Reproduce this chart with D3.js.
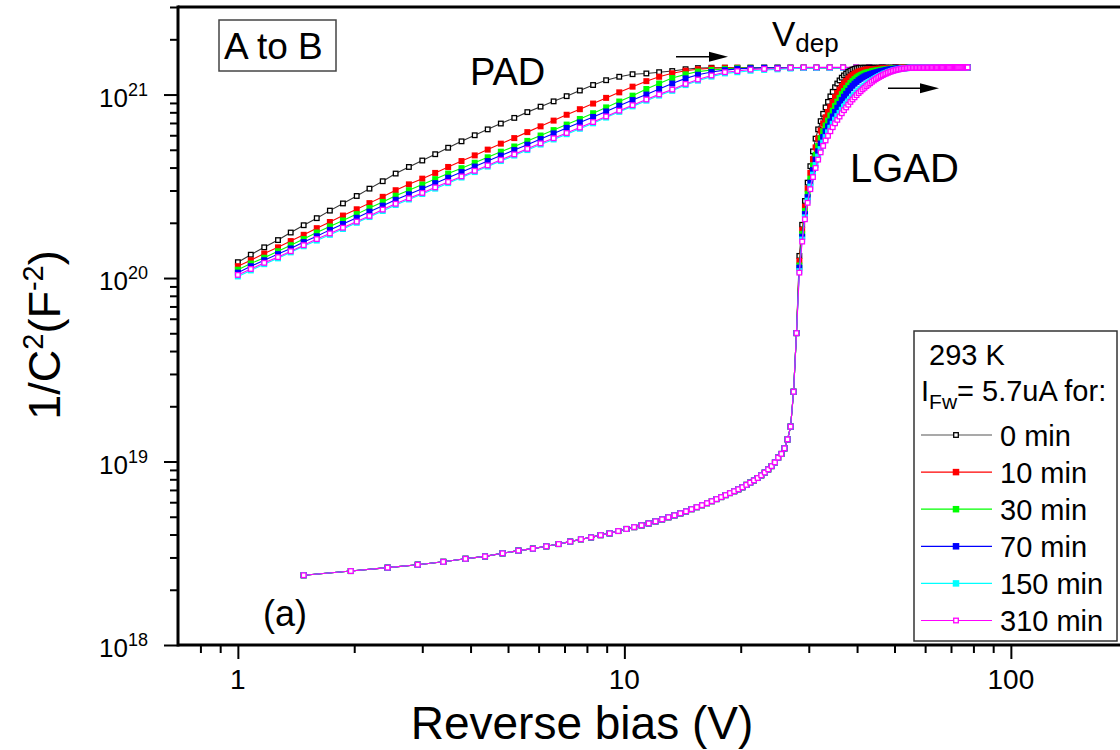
<!DOCTYPE html>
<html>
<head>
<meta charset="utf-8">
<script src="https://cdn.jsdelivr.net/npm/d3@7"></script>
<style>
  body { margin: 0; background: #fff; }
  svg { display: block; font-family: "Liberation Sans", Arial, sans-serif; }
</style>
</head>
<body>
<svg id="chart" width="1120" height="750"></svg>
<script>
// 1/C^2 values are stored in units of 1e18 F^-2
const UNIT = 1e18;

const seriesNames = ["0 min", "10 min", "30 min", "70 min", "150 min", "310 min"];
const seriesColors = ["#000000", "#ff0000", "#00ff00", "#0000ff", "#00ffff", "#ff00ff"];
const seriesHollow = [true, false, false, false, false, true];

// PAD sweep (log-spaced bias points, V)
const padVolts = [1, 1.08, 1.17, 1.27, 1.37, 1.48, 1.6, 1.73, 1.87, 2.03,
  2.19, 2.37, 2.56, 2.77, 3.0, 3.24, 3.5, 3.79, 4.1, 4.43,
  4.79, 5.19, 5.61, 6.07, 6.56, 7.09, 7.67, 8.3, 8.97, 9.7,
  10.5, 11.4, 12.3, 13.3, 14.4, 15.5, 16.8, 18.2, 19.6, 21.2,
  23.0, 24.9, 26.9, 29.1, 31.4, 34.0, 36.8, 39.8, 43.0, 46.5, 50.3];

const pad0 = [122, 134, 147, 161, 177, 194, 212, 233, 255, 280,
  307, 337, 371, 403, 437, 473, 513, 556, 600, 646,
  695, 746, 802, 859, 918, 980, 1052, 1127, 1197, 1250,
  1291, 1303, 1324, 1343, 1374, 1393, 1400, 1400, 1400, 1400,
  1400, 1400, 1400, 1400, 1400, 1400, 1400, 1400, 1400, 1400, 1400];
const pad10 = [116, 125, 136, 147, 159, 172, 187, 202, 219, 237,
  256, 277, 301, 324, 348, 374, 403, 434, 466, 501,
  540, 579, 624, 671, 721, 776, 832, 893, 959, 1028,
  1104, 1183, 1250, 1306, 1349, 1374, 1390, 1400, 1400, 1400,
  1400, 1400, 1400, 1400, 1400, 1400, 1400, 1400, 1400, 1400, 1400];
const pad30 = [111, 120, 129, 140, 151, 163, 177, 191, 206, 223,
  241, 260, 281, 301, 323, 346, 371, 397, 425, 455,
  488, 521, 559, 598, 640, 686, 736, 791, 851, 916,
  986, 1072, 1148, 1230, 1288, 1334, 1361, 1380, 1393, 1400,
  1400, 1400, 1400, 1400, 1400, 1400, 1400, 1400, 1400, 1400, 1400];
const pad70 = [107, 116, 125, 135, 145, 157, 169, 183, 197, 213,
  230, 248, 267, 286, 307, 329, 352, 378, 405, 434,
  465, 498, 533, 572, 614, 658, 705, 755, 809, 869,
  933, 1000, 1072, 1148, 1225, 1282, 1327, 1358, 1380, 1393,
  1400, 1400, 1400, 1400, 1400, 1400, 1400, 1400, 1400, 1400, 1400];
const pad150 = [102, 110, 119, 128, 138, 149, 160, 172, 185, 200,
  215, 232, 250, 268, 287, 307, 329, 353, 378, 405,
  434, 465, 498, 534, 569, 608, 651, 697, 749, 805,
  862, 926, 987, 1048, 1126, 1190, 1252, 1304, 1323, 1348,
  1362, 1372, 1385, 1395, 1395, 1395, 1395, 1395, 1395, 1395, 1395];
const pad310 = [104, 112, 121, 130, 140, 151, 163, 175, 188, 203,
  218, 236, 254, 272, 291, 312, 334, 358, 384, 411,
  441, 472, 506, 542, 578, 617, 661, 708, 760, 817,
  875, 940, 1002, 1064, 1143, 1208, 1271, 1324, 1343, 1368,
  1380, 1387, 1400, 1406, 1406, 1406, 1406, 1406, 1406, 1406, 1406];

// LGAD sweep (V)
const lgadVolts = [1.48, 1.96, 2.44, 2.92, 3.40, 3.88, 4.36, 4.84, 5.32, 5.80,
  6.28, 6.76, 7.24, 7.72, 8.20, 8.68, 9.16, 9.64, 10.12, 10.60,
  11.08, 11.56, 12.04, 12.52, 13.00, 13.48, 13.96, 14.44, 14.92, 15.40,
  15.88, 16.36, 16.84, 17.32, 17.80, 18.28, 18.76, 19.24, 19.72, 20.20,
  20.68, 21.16, 21.64, 22.12, 22.60, 23.08, 23.56, 24.04, 24.52, 25.00,
  25.48, 25.96, 26.44, 26.92, 27.40, 27.88, 28.36, 28.84, 29.32, 29.80,
  30.28, 30.76, 31.24, 31.72, 32.20, 32.68, 33.16, 33.64, 34.12, 34.60,
  35.08, 35.56, 36.04, 36.52, 37.00, 37.48, 37.96, 38.44, 38.92, 39.40,
  39.88, 40.36, 40.84, 41.32, 41.80, 42.28, 42.76, 43.24, 43.72, 44.20,
  44.68, 45.16, 45.64, 46.12, 46.60, 47.08, 47.56, 48.04, 48.52, 49.00,
  49.48, 49.96, 50.44, 50.92, 51.40, 51.88, 52.36, 52.84, 53.32, 53.80,
  54.28, 54.76, 55.24, 55.72, 56.20, 56.68, 57.16, 57.64, 58.12, 58.60,
  59.08, 59.56, 60.04, 60.52, 61.00, 61.48, 61.96, 62.44, 62.92, 63.40,
  63.88, 64.36, 64.84, 65.32, 65.80, 66.28, 66.76, 67.24, 67.72, 68.20,
  68.68, 69.16, 69.64, 70.12, 70.60, 71.08, 71.56, 72.04, 72.52, 73.00,
  73.48, 73.96, 74.44, 74.92, 75.40, 75.88, 76.36, 76.84, 77.32];

// below the gain-layer depletion all six LGAD sweeps coincide
const lgadLow = [2.40, 2.53, 2.64, 2.74, 2.84, 2.95, 3.04, 3.16, 3.27, 3.35,
  3.45, 3.55, 3.66, 3.77, 3.86, 3.97, 4.06, 4.18, 4.29, 4.39,
  4.49, 4.60, 4.72, 4.84, 4.97, 5.09, 5.22, 5.35, 5.50, 5.64,
  5.78, 5.93, 6.08, 6.24, 6.40, 6.56, 6.73, 6.89, 7.06, 7.24,
  7.46, 7.67, 7.89, 8.13, 8.41, 8.71, 9.06, 9.44, 9.89, 10.5,
  11.0, 11.8, 13.2, 15.5, 24.0, 50.1];

// bulk depletion knee, 28.36 V .. 54.28 V
const knee0 = [132, 195, 263, 331, 407, 490, 575, 646, 716, 785,
  851, 912, 977, 1035, 1096, 1148, 1194, 1236, 1271, 1300,
  1327, 1349, 1368, 1380, 1390, 1396, 1400, 1400, 1400, 1400,
  1400, 1400, 1400, 1400, 1400, 1400, 1400, 1400, 1400, 1400,
  1400, 1400, 1400, 1400, 1400, 1400, 1400, 1400, 1400, 1400,
  1400, 1400, 1400, 1400, 1400];
const knee10 = [124, 183, 245, 307, 374, 445, 515, 577, 637, 697,
  752, 804, 857, 910, 968, 1019, 1064, 1109, 1151, 1186,
  1219, 1250, 1276, 1300, 1318, 1334, 1346, 1352, 1361, 1368,
  1371, 1374, 1374, 1377, 1380, 1380, 1384, 1384, 1387, 1387,
  1390, 1390, 1393, 1393, 1393, 1396, 1396, 1396, 1396, 1400,
  1400, 1400, 1400, 1400, 1400];
const knee30 = [117, 174, 232, 288, 348, 410, 470, 524, 578, 630,
  678, 721, 769, 817, 867, 914, 959, 1005, 1045, 1084,
  1119, 1156, 1186, 1213, 1239, 1259, 1276, 1291, 1306, 1318,
  1324, 1330, 1340, 1346, 1349, 1355, 1358, 1365, 1368, 1371,
  1374, 1377, 1380, 1384, 1387, 1390, 1390, 1393, 1393, 1396,
  1396, 1396, 1396, 1400, 1400];
const knee70 = [114, 168, 223, 276, 331, 388, 442, 491, 541, 587,
  631, 671, 713, 759, 804, 847, 889, 933, 973, 1009,
  1047, 1084, 1117, 1146, 1172, 1197, 1219, 1239, 1256, 1271,
  1279, 1291, 1300, 1309, 1318, 1324, 1334, 1340, 1346, 1352,
  1361, 1365, 1371, 1374, 1377, 1380, 1384, 1387, 1390, 1393,
  1393, 1393, 1396, 1396, 1400];
const knee150 = [109, 162, 214, 264, 315, 366, 413, 459, 504, 547,
  586, 622, 659, 693, 729, 762, 794, 826, 859, 887,
  918, 948, 975, 1000, 1028, 1052, 1074, 1096, 1117, 1138,
  1156, 1175, 1197, 1213, 1230, 1247, 1262, 1276, 1288, 1303,
  1312, 1324, 1334, 1343, 1352, 1358, 1365, 1371, 1377, 1384,
  1387, 1387, 1390, 1393, 1396];
const knee310 = [107, 158, 209, 257, 305, 355, 398, 442, 484, 525,
  562, 596, 631, 664, 697, 728, 759, 791, 822, 851,
  881, 912, 940, 966, 993, 1019, 1042, 1067, 1089, 1112,
  1132, 1153, 1175, 1194, 1213, 1230, 1247, 1262, 1276, 1291,
  1303, 1315, 1327, 1337, 1346, 1355, 1361, 1368, 1374, 1380,
  1384, 1387, 1390, 1393, 1396];

// fully depleted plateau, shared by all sweeps
const lgadPlateau = [1400, 1400, 1400, 1400, 1400, 1400, 1400, 1400, 1400, 1400,
  1400, 1400, 1401, 1401, 1401, 1401, 1401, 1402, 1402, 1402,
  1402, 1402, 1402, 1403, 1403, 1403, 1403, 1403, 1403, 1404,
  1404, 1404, 1404, 1404, 1405, 1405, 1405, 1405, 1405, 1405,
  1406, 1406, 1406, 1406, 1406, 1406, 1406, 1406];

const xMajorTicks = [1, 10, 100];
const yMajorTicks = [1e18, 1e19, 1e20, 1e21];

const padSets = [pad0, pad10, pad30, pad70, pad150, pad310];
const kneeSets = [knee0, knee10, knee30, knee70, knee150, knee310];

const series = seriesNames.map((name, i) => ({
  name,
  color: seriesColors[i],
  hollow: seriesHollow[i],
  pad: padVolts.map((v, k) => ({ v, c: padSets[i][k] * UNIT })),
  lgad: lgadLow.concat(kneeSets[i], lgadPlateau).map((c, k) => ({ v: lgadVolts[k], c: c * UNIT }))
}));

// ---- layout ----
const svg = d3.select("#chart");
const plotLeft = 178, plotTop = 7, plotBottom = 645;
const decadePx = 386.5;
const x = d3.scaleLog().domain([0.7, 200]).range([plotLeft, plotLeft + decadePx * Math.log10(200 / 0.7)]);
const y = d3.scaleLog().domain([1e18, 3e21]).range([plotBottom, plotTop]);

const xMinorTicks = x.ticks().filter(t => !xMajorTicks.includes(t) && t > 0.7 && t < 200);
const yMinorTicks = y.ticks().filter(t => !yMajorTicks.some(m => Math.abs(m - t) / t < 1e-6));

// ---- axes ----
function styleAxis(g) {
  g.select(".domain").remove();
  g.selectAll(".tick line").attr("stroke", "#000").attr("stroke-width", 2);
}
svg.append("g").attr("transform", `translate(0,${plotBottom})`)
  .call(d3.axisBottom(x).tickValues(xMinorTicks).tickSize(8).tickSizeOuter(0).tickFormat(""))
  .call(styleAxis);
svg.append("g").attr("transform", `translate(0,${plotBottom})`)
  .call(d3.axisBottom(x).tickValues(xMajorTicks).tickSize(14).tickSizeOuter(0).tickFormat(""))
  .call(styleAxis);
svg.append("g").attr("transform", `translate(${plotLeft},0)`)
  .call(d3.axisLeft(y).tickValues(yMinorTicks).tickSize(8).tickSizeOuter(0).tickFormat(""))
  .call(styleAxis);
svg.append("g").attr("transform", `translate(${plotLeft},0)`)
  .call(d3.axisLeft(y).tickValues(yMajorTicks).tickSize(14).tickSizeOuter(0).tickFormat(""))
  .call(styleAxis);

// frame
svg.append("line").attr("x1", plotLeft).attr("x2", 1120).attr("y1", plotBottom).attr("y2", plotBottom)
  .attr("stroke", "#000").attr("stroke-width", 3);
svg.append("line").attr("x1", plotLeft).attr("x2", 1120).attr("y1", plotTop).attr("y2", plotTop)
  .attr("stroke", "#000").attr("stroke-width", 3);
svg.append("line").attr("x1", plotLeft).attr("x2", plotLeft).attr("y1", plotTop - 1.5).attr("y2", plotBottom + 1.5)
  .attr("stroke", "#000").attr("stroke-width", 3);

// x tick labels
svg.selectAll(".xlab").data(xMajorTicks).enter().append("text")
  .attr("x", d => x(d)).attr("y", 689)
  .attr("text-anchor", "middle").attr("font-size", 28)
  .text(d => d);

// y tick labels 10^n
yMajorTicks.forEach(t => {
  const tx = svg.append("text").attr("x", 148).attr("y", y(t) + 12)
    .attr("text-anchor", "end").attr("font-size", 26);
  tx.append("tspan").text("10");
  tx.append("tspan").attr("dy", -11).attr("font-size", 18).text(Math.round(Math.log10(t)));
});

// axis titles
svg.append("text").attr("x", 582).attr("y", 739).attr("text-anchor", "middle")
  .attr("font-size", 46).text("Reverse bias (V)");

const yt = svg.append("text")
  .attr("transform", "translate(60,335) rotate(-90)")
  .attr("text-anchor", "middle").attr("font-size", 45);
yt.append("tspan").text("1/C");
yt.append("tspan").attr("dy", -17).attr("font-size", 29).text("2");
yt.append("tspan").attr("dy", 17).text("(F");
yt.append("tspan").attr("dy", -17).attr("font-size", 29).text("-2");
yt.append("tspan").attr("dy", 17).text(")");

// ---- data ----
const line = d3.line().x(d => x(d.v)).y(d => y(d.c));
const plot = svg.append("g");

function drawMarkers(g, pts, s, size) {
  g.selectAll(null).data(pts).enter().append("rect")
    .attr("x", d => x(d.v) - size / 2).attr("y", d => y(d.c) - size / 2)
    .attr("width", size).attr("height", size)
    .attr("fill", s.hollow ? "#fff" : s.color)
    .attr("stroke", s.hollow ? s.color : "none")
    .attr("stroke-width", s.hollow ? 1.3 : 0);
}

["pad", "lgad"].forEach(key => {
  series.forEach(s => {
    const g = plot.append("g");
    g.append("path").datum(s[key]).attr("d", line)
      .attr("fill", "none")
      .attr("stroke", s.color === "#000000" ? "#333" : s.color)
      .attr("stroke-width", 1.1);
    drawMarkers(g, s[key], s, s.hollow ? 4.6 : 6);
  });
});

// ---- annotations ----
svg.append("rect").attr("x", 219).attr("y", 20).attr("width", 117).attr("height", 51)
  .attr("fill", "#fff").attr("stroke", "#444").attr("stroke-width", 1.5);
svg.append("text").attr("x", 224).attr("y", 59).attr("font-size", 37).text("A to B");

svg.append("text").attr("x", 470).attr("y", 85).attr("font-size", 38).text("PAD");
const vd = svg.append("text").attr("x", 772).attr("y", 46).attr("font-size", 35);
vd.append("tspan").text("V");
vd.append("tspan").attr("dy", 6).attr("font-size", 26).text("dep");
svg.append("text").attr("x", 850).attr("y", 182).attr("font-size", 40).text("LGAD");
svg.append("text").attr("x", 263).attr("y", 626).attr("font-size", 36).text("(a)");

function arrow(x1, x2, yy) {
  svg.append("line").attr("x1", x1).attr("x2", x2 - 16).attr("y1", yy).attr("y2", yy)
    .attr("stroke", "#000").attr("stroke-width", 1.5);
  svg.append("path")
    .attr("d", `M${x2 - 19},${yy - 5}L${x2},${yy}L${x2 - 19},${yy + 5}Z`)
    .attr("fill", "#000");
}
arrow(676, 728, 56.7);
arrow(888, 939, 88.3);

// ---- legend ----
const lg = svg.append("g");
lg.append("rect").attr("x", 914).attr("y", 331).attr("width", 203).attr("height", 310)
  .attr("fill", "#fff").attr("stroke", "#333").attr("stroke-width", 1.5);
lg.append("text").attr("x", 929).attr("y", 365).attr("font-size", 29).text("293 K");
const lt = lg.append("text").attr("x", 921).attr("y", 401).attr("font-size", 29);
lt.append("tspan").text("I");
lt.append("tspan").attr("dy", 8).attr("font-size", 21).text("Fw");
lt.append("tspan").attr("dy", -8).text("= 5.7uA for:");

series.forEach((s, i) => {
  const cy = 435 + 37.1 * i;
  lg.append("line").attr("x1", 921).attr("x2", 992).attr("y1", cy).attr("y2", cy)
    .attr("stroke", s.color === "#000000" ? "#555" : s.color).attr("stroke-width", 1.2);
  const sz = s.hollow ? 4.6 : 6.5;
  lg.append("rect").attr("x", 956 - sz / 2).attr("y", cy - sz / 2).attr("width", sz).attr("height", sz)
    .attr("fill", s.hollow ? "#fff" : s.color)
    .attr("stroke", s.hollow ? s.color : "none").attr("stroke-width", s.hollow ? 1.3 : 0);
  lg.append("text").attr("x", 1000).attr("y", cy + 10.5).attr("font-size", 29).text(s.name);
});
</script>
</body>
</html>
